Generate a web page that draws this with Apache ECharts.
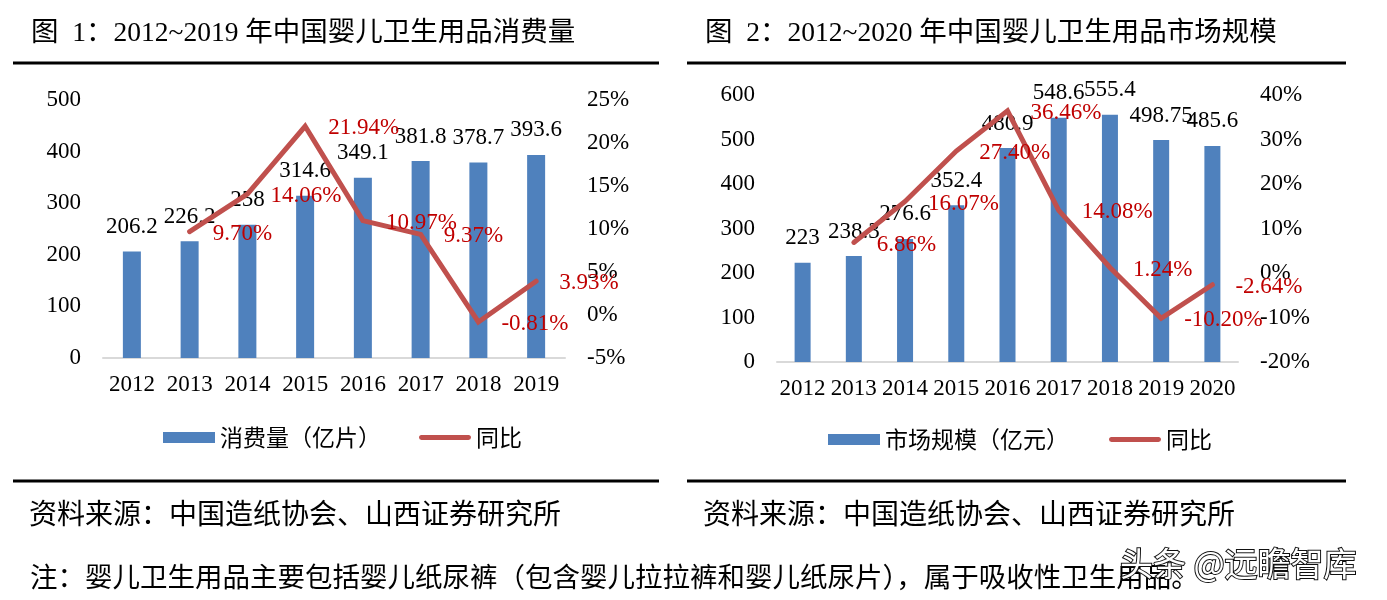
<!DOCTYPE html>
<html>
<head>
<meta charset="utf-8">
<script src="https://cdn.jsdelivr.net/npm/echarts@6/dist/echarts.min.js"></script>
<style>
html,body{margin:0;padding:0;background:#fff;}
#c{width:1387px;height:600px;}
</style>
</head>
<body>
<div id="c"></div>
<script>
// ---- data ----
const years1 = ['2012','2013','2014','2015','2016','2017','2018','2019'];
const consumption = [206.2, 226.2, 258, 314.6, 349.1, 381.8, 378.7, 393.6];
const consumptionYoY = [null, 9.70, 14.06, 21.94, 10.97, 9.37, -0.81, 3.93];

const years2 = ['2012','2013','2014','2015','2016','2017','2018','2019','2020'];
const marketSize = [223, 238.3, 276.6, 352.4, 480.9, 548.6, 555.4, 498.75, 485.6];
const marketYoY = [null, 6.86, 16.07, 27.40, 36.46, 14.08, 1.24, -10.20, -2.64];

// axis ranges [min, max, interval]
const axis1Left = [0, 500, 100];
const axis1Right = [-5, 25, 5];
const axis2Left = [0, 600, 100];
const axis2Right = [-20, 40, 10];

const title1 = '图  1：2012~2019 年中国婴儿卫生用品消费量';
const title2 = '图  2：2012~2020 年中国婴儿卫生用品市场规模';
const sourceText = '资料来源：中国造纸协会、山西证券研究所';
const noteText = '注：婴儿卫生用品主要包括婴儿纸尿裤（包含婴儿拉拉裤和婴儿纸尿片），属于吸收性卫生用品。';
const watermark = '头条 @远瞻智库';
const name1Bar = '消费量（亿片）';
const name2Bar = '市场规模（亿元）';
const nameLine = '同比';

// ---- styles ----
const SERIF = "'Liberation Serif','Times New Roman','Noto Sans CJK SC',serif";
const CJK = "'Noto Sans CJK SC','Liberation Sans',sans-serif";
const BAR = '#4F81BD';
const LINE = '#C0504D';
const RED = '#C00000';
const LINE_ICON = 'path://M0,0L0.01,0M52,11L52.01,11M2.5,3L49.5,3A2.5,2.5,0,0,1,49.5,8L2.5,8A2.5,2.5,0,0,1,2.5,3Z';
const FS = 23;

const chart = echarts.init(document.getElementById('c'));

function valAxis(gi, r, pos, pct) {
  return {
    type: 'value', gridIndex: gi, position: pos,
    min: r[0], max: r[1], interval: r[2],
    splitLine: {show: false}, axisLine: {show: false}, axisTick: {show: false},
    axisLabel: {fontFamily: SERIF, fontSize: FS, color: '#000', margin: 22,
      formatter: pct ? '{value}%' : '{value}'}
  };
}
function catAxis(gi, data) {
  return {
    type: 'category', gridIndex: gi, data: data,
    axisLine: {lineStyle: {color: '#D9D9D9', width: 2}},
    axisTick: {show: false},
    axisLabel: {fontFamily: SERIF, fontSize: FS, color: '#000', margin: 15, interval: 0}
  };
}
function barSeries(name, xi, yi, data, w) {
  return {
    name: name, type: 'bar', xAxisIndex: xi, yAxisIndex: yi, data: data,
    barWidth: w, itemStyle: {color: BAR}, z: 2,
    label: {show: true, position: 'top', distance: 13, fontFamily: SERIF, fontSize: FS, color: '#000'}
  };
}
function lineSeries(name, xi, yi, data) {
  return {
    name: name, type: 'line', xAxisIndex: xi, yAxisIndex: yi, data: data,
    symbol: 'circle', symbolSize: 0.01, showSymbol: true, z: 3, connectNulls: false,
    lineStyle: {color: LINE, width: 5, cap: 'round', join: 'miter'},
    itemStyle: {color: LINE},
    label: {show: true, position: 'right', distance: 23, offset: [0, 2], fontFamily: SERIF, fontSize: FS, color: RED,
      formatter: p => p.value == null ? '' : Number(p.value).toFixed(2) + '%'}
  };
}

const option = {
  backgroundColor: '#fff',
  animation: false,
  title: [
    {text: title1, left: 31, top: 20, padding: 0,
     textStyle: {fontFamily: SERIF, fontSize: 27.5, color: '#000', fontWeight: 'normal'}},
    {text: title2, left: 705, top: 20, padding: 0,
     textStyle: {fontFamily: SERIF, fontSize: 27.5, color: '#000', fontWeight: 'normal'}}
  ],
  grid: [
    {left: 103, right: 1387 - 565, top: 100, bottom: 600 - 358},
    {left: 777, right: 1387 - 1238, top: 95, bottom: 600 - 362}
  ],
  xAxis: [catAxis(0, years1), catAxis(1, years2)],
  yAxis: [
    valAxis(0, axis1Left, 'left', false),
    valAxis(0, axis1Right, 'right', true),
    valAxis(1, axis2Left, 'left', false),
    valAxis(1, axis2Right, 'right', true)
  ],
  legend: [
    {left: 163, top: 426, itemWidth: 52, itemHeight: 11, itemGap: 38, padding: 0,
     textStyle: {fontFamily: CJK, fontSize: 23, color: '#000'},
     data: [{name: name1Bar, icon: 'rect'}, {name: nameLine, icon: LINE_ICON}]},
    {left: 828, top: 428, itemWidth: 52, itemHeight: 11, itemGap: 40, padding: 0,
     textStyle: {fontFamily: CJK, fontSize: 23, color: '#000'},
     data: [{name: name2Bar, icon: 'rect'}, {name: nameLine, icon: LINE_ICON}]}
  ],
  series: [
    barSeries(name1Bar, 0, 0, consumption, 18),
    lineSeries(nameLine, 0, 1, consumptionYoY),
    barSeries(name2Bar, 1, 2, marketSize, 16),
    lineSeries(nameLine, 1, 3, marketYoY)
  ],
  graphic: [
    {type: 'line', shape: {x1: 13, y1: 63, x2: 659, y2: 63}, style: {stroke: '#000', lineWidth: 3}},
    {type: 'line', shape: {x1: 687, y1: 63, x2: 1346, y2: 63}, style: {stroke: '#000', lineWidth: 3}},
    {type: 'line', shape: {x1: 13, y1: 481, x2: 659, y2: 481}, style: {stroke: '#000', lineWidth: 3}},
    {type: 'line', shape: {x1: 687, y1: 481, x2: 1346, y2: 481}, style: {stroke: '#000', lineWidth: 3}},
    {type: 'text', x: 29, y: 513, style: {text: sourceText, font: "28px " + CJK, fill: '#000', textVerticalAlign: 'middle'}},
    {type: 'text', x: 703, y: 513, style: {text: sourceText, font: "28px " + CJK, fill: '#000', textVerticalAlign: 'middle'}},
    {type: 'text', x: 30, y: 577, style: {text: noteText, font: "27.5px " + CJK, fill: '#000', textVerticalAlign: 'middle'}},
    {type: 'text', x: 1120, y: 563, z: 10, style: {text: watermark, font: "33px " + CJK, fill: '#fff',
      stroke: '#111', lineWidth: 2, textVerticalAlign: 'middle'}}
  ]
};
chart.setOption(option);
</script>
</body>
</html>
